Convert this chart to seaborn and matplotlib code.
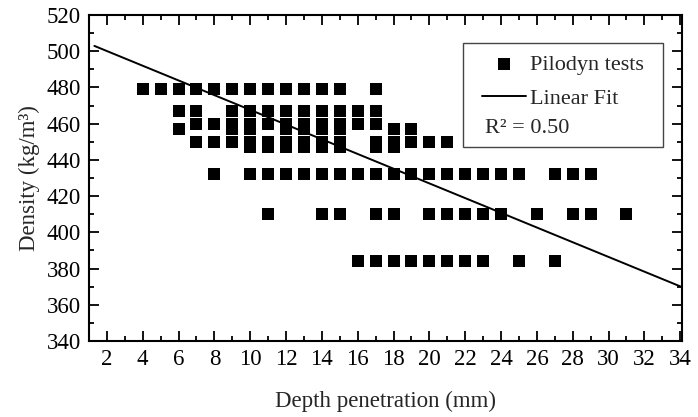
import numpy as np
import pandas as pd
import matplotlib
matplotlib.use("Agg")
import matplotlib.pyplot as plt
import matplotlib.patches as mpatches
from matplotlib.ticker import MultipleLocator
import seaborn as sns

# ---- data ----
depth_mm = [4, 5,
            6, 6, 6,
            7, 7, 7, 7,
            8, 8, 8, 8,
            9, 9, 9, 9, 9,
            10, 10, 10, 10, 10, 10, 10,
            11, 11, 11, 11, 11, 11, 11,
            12, 12, 12, 12, 12, 12, 12,
            13, 13, 13, 13, 13, 13, 13,
            14, 14, 14, 14, 14, 14, 14, 14,
            15, 15, 15, 15, 15, 15, 15, 15,
            16, 16, 16, 16,
            17, 17, 17, 17, 17, 17, 17, 17,
            18, 18, 18, 18, 18, 18,
            19, 19, 19, 19,
            20, 20, 20, 20,
            21, 21, 21, 21,
            22, 22, 22,
            23, 23, 23,
            24, 24,
            25, 25,
            26,
            27, 27,
            28, 28,
            29, 29,
            31]
density = [479, 479,
           479, 467, 457,
           479, 467, 460, 450,
           479, 460, 450, 432,
           479, 467, 460, 457, 450,
           479, 467, 460, 457, 450, 447, 432,
           479, 467, 460, 450, 447, 432, 410,
           479, 467, 460, 457, 450, 447, 432,
           479, 467, 460, 457, 450, 447, 432,
           479, 467, 460, 457, 450, 447, 432, 410,
           479, 467, 460, 457, 450, 447, 432, 410,
           467, 460, 432, 384,
           479, 467, 460, 450, 447, 432, 410, 384,
           457, 450, 447, 432, 410, 384,
           457, 450, 432, 384,
           450, 432, 410, 384,
           450, 432, 410, 384,
           432, 410, 384,
           432, 410, 384,
           432, 410,
           432, 384,
           410,
           432, 384,
           432, 410,
           432, 410,
           410]

fit_slope = -4.06
fit_intercept = 508.2
fit_x = [1.3, 34.0]
r2_text = "R² = 0.50"

xlabel = "Depth penetration (mm)"
ylabel = "Density (kg/m³)"

df = pd.DataFrame({"depth": depth_mm, "density": density})
fit_df = pd.DataFrame({"depth": fit_x})
fit_df["density"] = fit_intercept + fit_slope * fit_df["depth"]

sns.set_theme(style="ticks")
plt.rcParams["font.family"] = ["Liberation Serif", "DejaVu Serif"]

fs = 16.5
fig = plt.figure(figsize=(6.98, 4.17), dpi=100)
ax = fig.add_axes([0.1275, 0.1823, 0.8496, 0.7818])

sns.scatterplot(data=df, x="depth", y="density", marker="s", s=68,
                color="black", linewidth=0, ax=ax, label="Pilodyn tests",
                legend=False)
sns.lineplot(data=fit_df, x="depth", y="density", color="black", lw=1.4,
             ax=ax, label="Linear Fit", legend=False)

ax.set_xlim(1, 34.1)
ax.set_ylim(340, 520)
ax.xaxis.set_major_locator(MultipleLocator(2))
ax.xaxis.set_minor_locator(MultipleLocator(1))
ax.yaxis.set_major_locator(MultipleLocator(20))
ax.yaxis.set_minor_locator(MultipleLocator(10))
ax.tick_params(which="both", direction="in", top=True, right=True,
               width=1.3, colors="black", labelsize=fs)
ax.tick_params(which="major", length=7)
ax.tick_params(which="minor", length=3.6)
ax.tick_params(axis="x", which="major", pad=6)
ax.tick_params(axis="y", which="major", pad=6)
for sp in ax.spines.values():
    sp.set_visible(True)
    sp.set_linewidth(1.5)
    sp.set_color("black")

ax.set_xlabel(xlabel, fontsize=16.5, labelpad=15)
ax.set_ylabel(ylabel, fontsize=16.5, labelpad=4.5)

handles, labels = ax.get_legend_handles_labels()
leg = ax.legend(handles, labels, loc="upper left",
                bbox_to_anchor=(0.662, 0.878), frameon=False, fontsize=16,
                borderpad=0, borderaxespad=0, handlelength=2.0,
                handletextpad=0.2, labelspacing=0.6)
ax.add_patch(mpatches.Rectangle((0.631, 0.595), 0.337, 0.319,
                                transform=ax.transAxes, fill=False,
                                lw=1.0, edgecolor="#444444", zorder=5))
ax.text(0.668, 0.652, r2_text, transform=ax.transAxes, va="center",
        ha="left", fontsize=16)

fig.savefig("out.png", dpi=100)
